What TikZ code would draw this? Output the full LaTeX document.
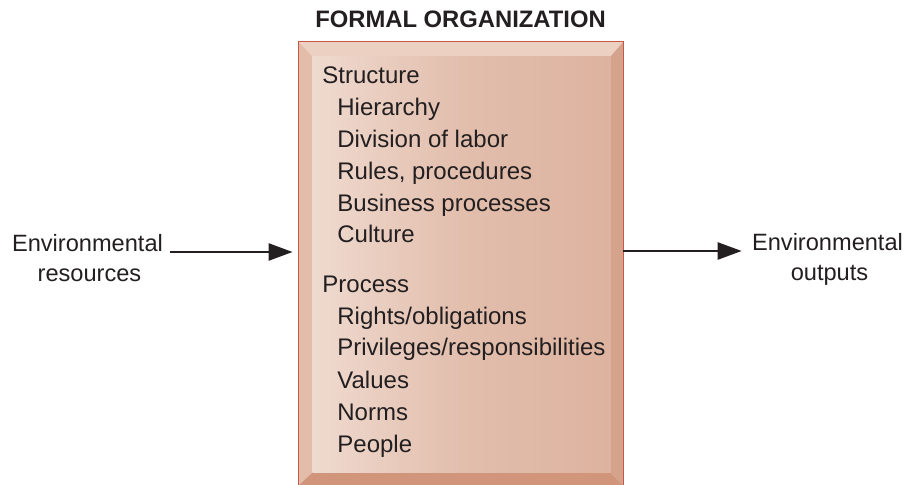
\documentclass[tikz,border=0pt]{standalone}
\usepackage{fontspec}
\setmainfont{Liberation Sans}
\usepackage{tikz}
\usetikzlibrary{arrows.meta,positioning}
\definecolor{orgline}{RGB}{197,88,72}
\definecolor{orgtop}{RGB}{236,208,193}
\definecolor{orgleft}{RGB}{227,188,170}
\definecolor{orgright}{RGB}{213,163,140}
\definecolor{orgbottom}{RGB}{209,149,123}
\definecolor{orgpale}{RGB}{239,218,207}
\definecolor{orgmid}{RGB}{226,190,173}
\definecolor{orgdeep}{RGB}{221,179,159}
\definecolor{ink}{RGB}{35,31,32}

\begin{document}
\begin{tikzpicture}[x=.5pt,y=-.5pt,
  every node/.style={text=ink,font=\fontsize{12}{14}\selectfont,inner sep=0pt},
  head/.style={anchor=base west},
  item/.style={anchor=base west},
  side/.style={anchor=base,font=\fontsize{11.8}{14}\selectfont},
  flow/.style={line width=1.2pt,draw=ink,-{Triangle[length=12pt,width=8.5pt]}}]
\useasboundingbox (0,0) rectangle (908,485);
%the box and its bevels
\node[minimum width=162pt,minimum height=221.5pt] (org) at (461,263.5) {};
\fill[orgtop] (org.north west) -- (org.north east) -- ([shift={(-13,15)}]org.north east) -- ([shift={(14,15)}]org.north west) -- cycle;
\fill[orgleft] (org.north west) -- ([shift={(14,15)}]org.north west) -- ([shift={(14,-13)}]org.south west) -- (org.south west) -- cycle;
\fill[orgright] (org.north east) -- (org.south east) -- ([shift={(-13,-13)}]org.south east) -- ([shift={(-13,15)}]org.north east) -- cycle;
\fill[orgbottom] (org.south west) -- ([shift={(14,-13)}]org.south west) -- ([shift={(-13,-13)}]org.south east) -- (org.south east) -- cycle;
\shade[left color=orgpale,right color=orgdeep,middle color=orgmid] ([shift={(14,15)}]org.north west) rectangle ([shift={(-13,-13)}]org.south east);
\draw[orgline,line width=.8pt] (org.south west) -- (org.north west) -- (org.north east) -- (org.south east);
%title
\node[font=\bfseries\fontsize{11.9}{14}\selectfont,anchor=base] (title) at (460.5,28) {FORMAL ORGANIZATION};
%structure
\node[head] (struct) at (322,84) {Structure};
\node[item] (hier) at (337,116) {Hierarchy};
\node[item] (div) at (337,148) {Division of labor};
\node[item] (rules) at (337,180) {Rules, procedures};
\node[item] (bus) at (337,211.5) {Business processes};
\node[item] (cult) at (337,243) {Culture};
%process
\node[head] (proc) at (322,293) {Process};
\node[item] (rights) at (337,324.5) {Rights/obligations};
\node[item] (priv) at (337,356) {Privileges/responsibilities};
\node[item] (val) at (337,388) {Values};
\node[item] (norms) at (337,420) {Norms};
\node[item] (people) at (337,452) {People};
%inputs and outputs
\node[side] (envres) at (87.5,252) {Environmental}; \node[side] (res) at (89.5,282) {resources};
\node[side] (envout) at (827.5,251) {Environmental}; \node[side] (out) at (829.5,281) {outputs};
\draw[flow,shorten >=3pt] ([xshift=3.5pt]envres.base east) -- (envres.base -| org.west);
\draw[flow] (envout.base -| org.east) -- ([xshift=-5pt]envout.base west);
\end{tikzpicture}
\end{document}
